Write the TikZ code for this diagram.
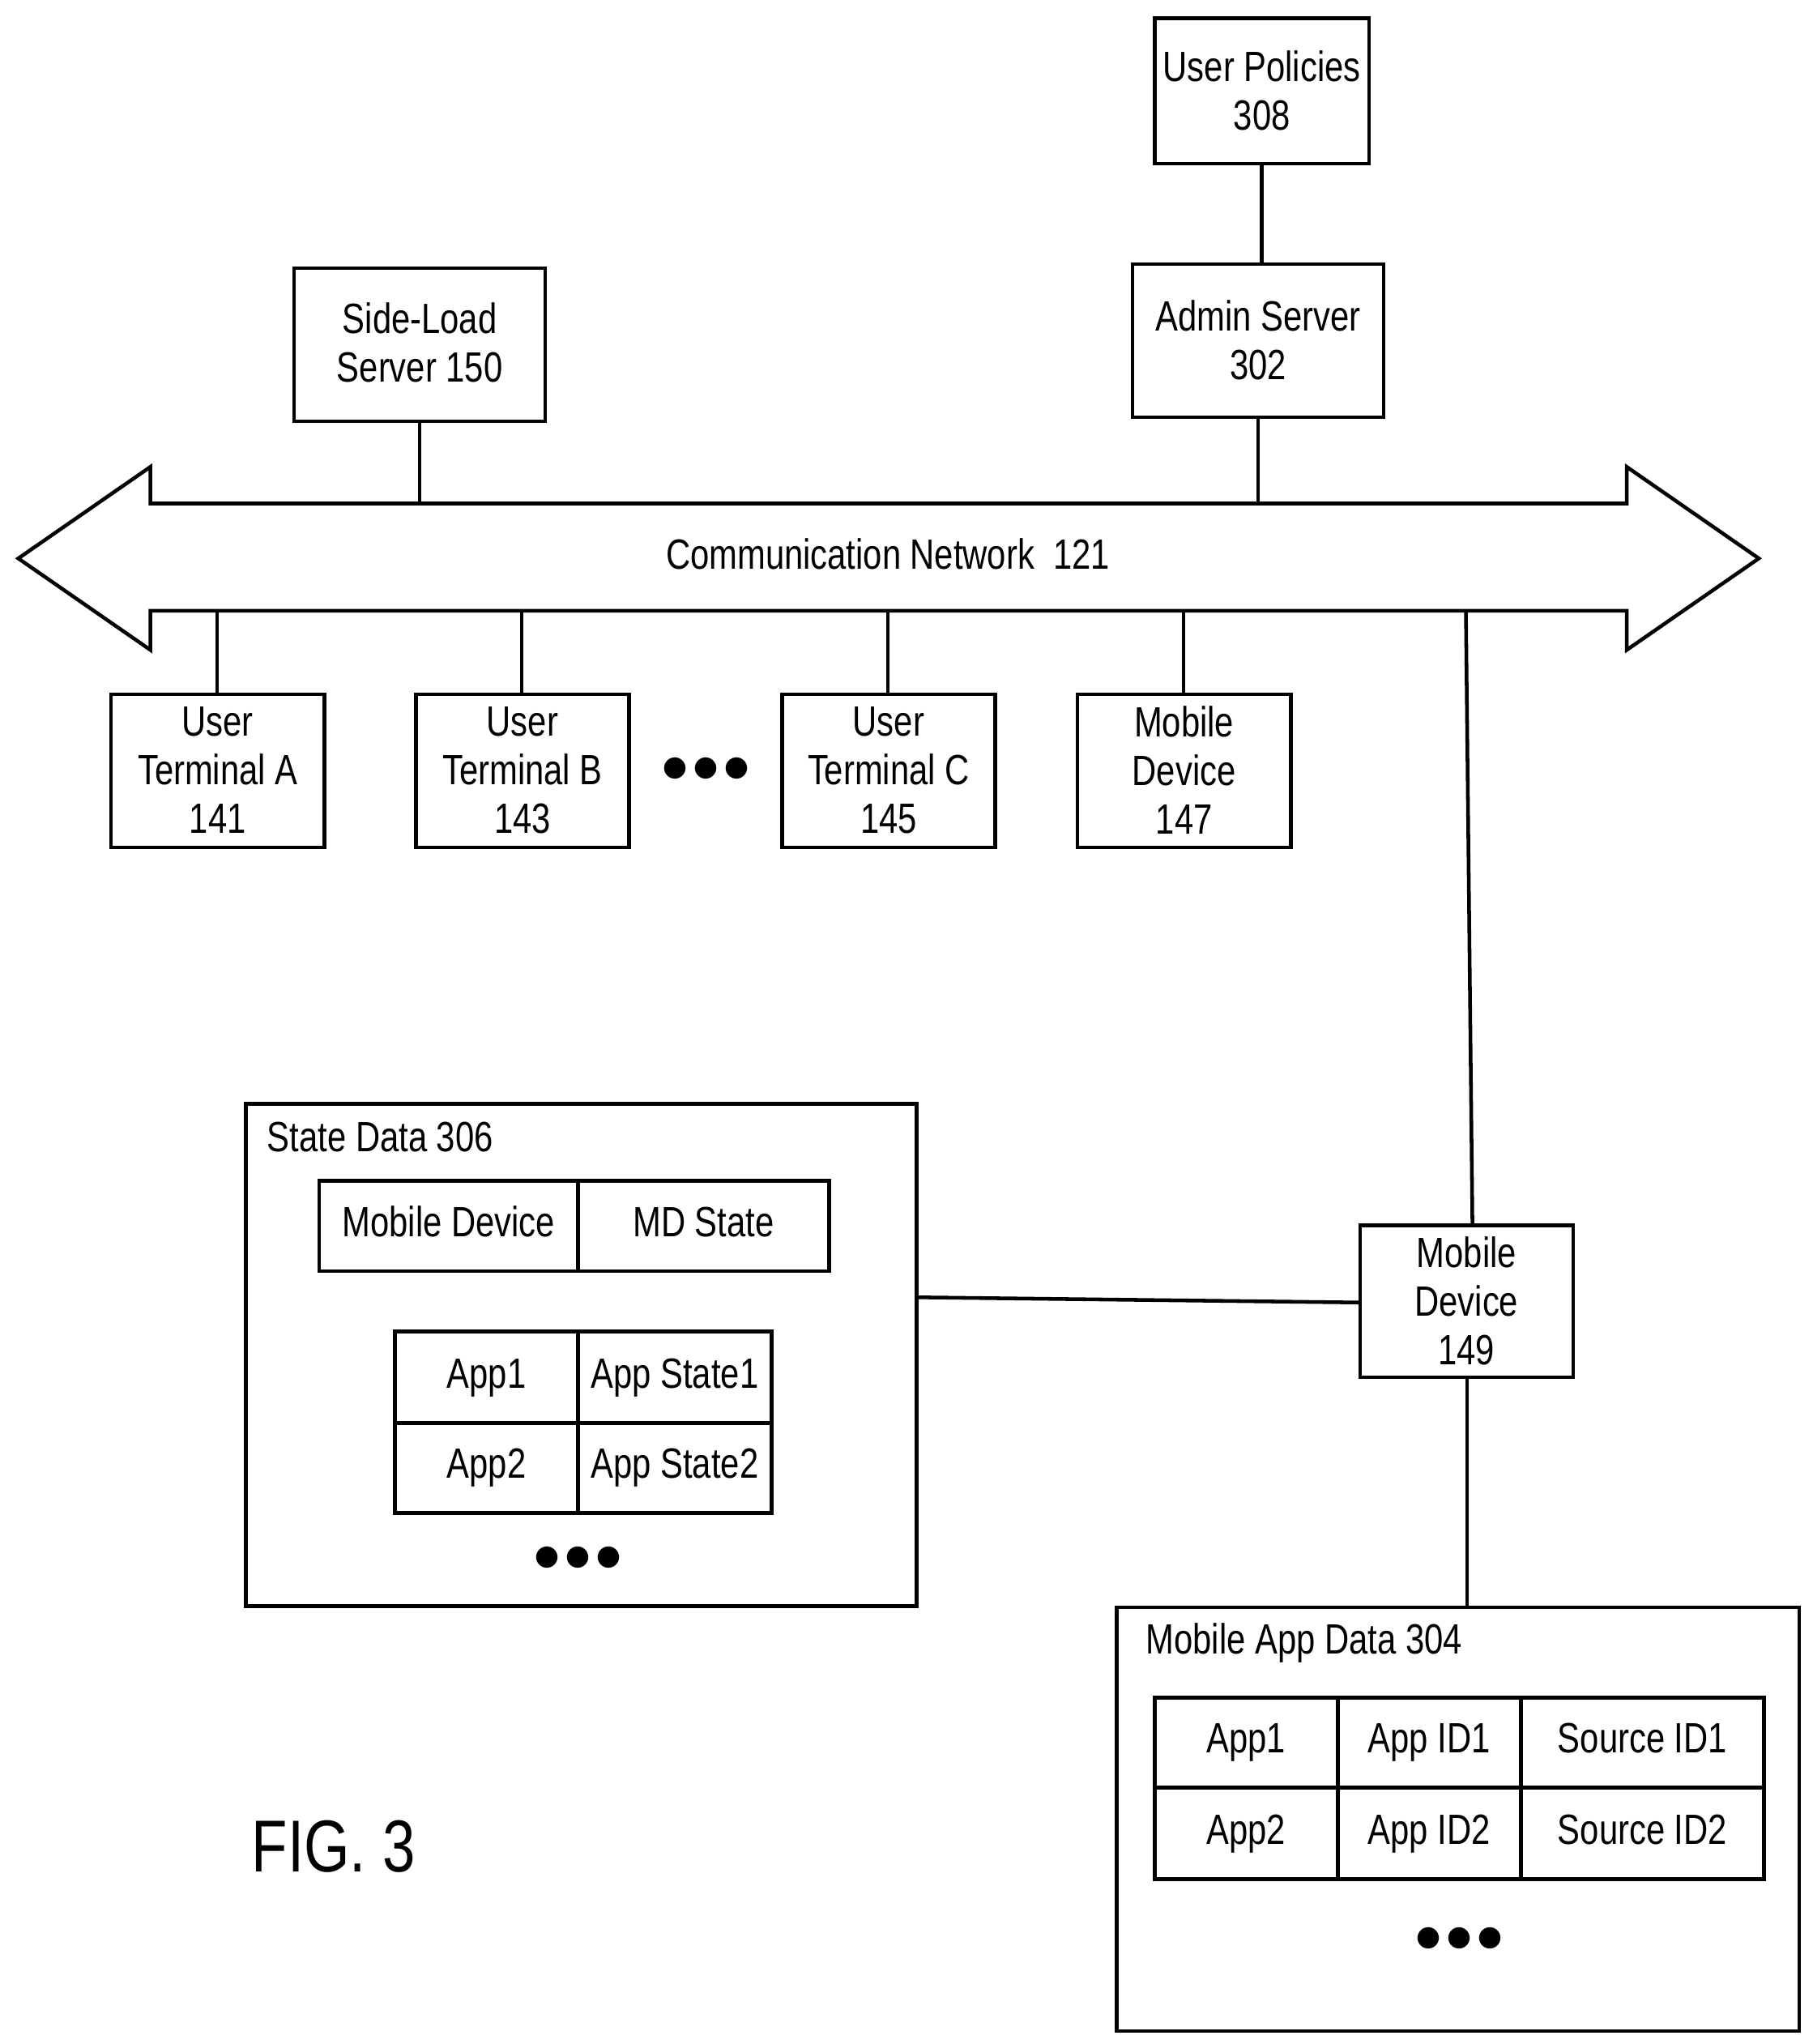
\documentclass[tikz,border=0pt]{standalone}
\usepackage{fontspec}
\setmainfont{Liberation Sans}[FakeStretch=0.8]
\begin{document}
\begin{tikzpicture}[x=0.01cm,y=-0.01cm,line width=0.8pt,
  lbl/.style={inner sep=0pt,font=\fontsize{9.2}{10.6}\selectfont},
  one/.style={lbl,text height=6.6pt,text depth=1.8pt},
  dots/.style={inner sep=0pt,font=\fontsize{12}{12}\selectfont}]
\useasboundingbox (0,0) rectangle (1386,1563);
% boxes
\draw (883,14) rectangle (1047,125);
\node[lbl,align=center] (upt) at (965,69.5) {User Policies\\308};
\draw (866,202) rectangle (1058,319); \node[lbl,align=center] (as) at (962,260) {Admin Server\\302};
\draw (225,205) rectangle (417,322); \node[lbl,align=center] (sl) at (321,262) {Side-Load\\Server 150};
% network arrow
\draw (14,427) -- (115,357) -- (115,385) -- (1244,385) -- (1244,357) -- (1345,427) -- (1244,497) -- (1244,467) -- (115,467) -- (115,497) -- cycle;
\node[one] (net) at (679,427) {Communication Network\ \ 121};
\coordinate (n1) at (321,385); \coordinate (n2) at (962,385);
\draw (321,322) -- (n1); \draw (962,319) -- (n2); \draw (965,125) -- (965,202);
% terminals
\foreach \x/\w/\t in {85/163/{User\\Terminal A\\141},318/163/{User\\Terminal B\\143},598/163/{User\\Terminal C\\145},824/163/{Mobile\\Device\\147}}{
  \draw (\x,531) rectangle ++(\w,117);
  \node[lbl,align=center] at (\x+\w/2,589) {\t};
  \draw (\x+\w/2-0.5,467) -- (\x+\w/2-0.5,531);
}
\node[dots] at (540,589) {$\bullet\!\bullet\!\bullet$};
% mobile device 149
\draw (1040,937) rectangle (1203,1053);
\node[lbl,align=center] (md) at (1121.5,995) {Mobile\\Device\\149};
\draw (1121,467) -- (1126,937);
\draw (1122,1053) -- (1122,1229);
% state data
\draw (188,844) rectangle (701,1228);
\node[one,anchor=west] at (203,872) {State Data 306};
\draw (244,903) rectangle (634,972); \draw (442,903) -- (442,972);
\node[one] at (343,937.5) {Mobile Device}; \node[one] at (538,937.5) {MD State};
\draw (302,1018) rectangle (590,1157); \draw (442,1018) -- (442,1157); \draw (302,1088) -- (590,1088);
\node[one] at (372,1053) {App1}; \node[one] at (516,1053) {App State1};
\node[one] at (372,1122) {App2}; \node[one] at (516,1122) {App State2};
\node[dots] at (442,1192) {$\bullet\!\bullet\!\bullet$};
\draw (701,992) -- (1040,996);
% mobile app data
\draw (854,1229) rectangle (1376,1553);
\node[one,anchor=west] at (875,1256) {Mobile App Data 304};
\draw (883,1298) rectangle (1349,1437); \draw (1023,1298) -- (1023,1437); \draw (1163,1298) -- (1163,1437); \draw (883,1367) -- (1349,1367);
\node[one] at (953,1332) {App1}; \node[one] at (1093,1332) {App ID1}; \node[one] at (1256,1332) {Source ID1};
\node[one] at (953,1402) {App2}; \node[one] at (1093,1402) {App ID2}; \node[one] at (1256,1402) {Source ID2};
\node[dots] at (1116,1483) {$\bullet\!\bullet\!\bullet$};
\node[inner sep=0pt,font=\fontsize{16}{16}\selectfont] at (255,1412) {FIG. 3};
\end{tikzpicture}
\end{document}
